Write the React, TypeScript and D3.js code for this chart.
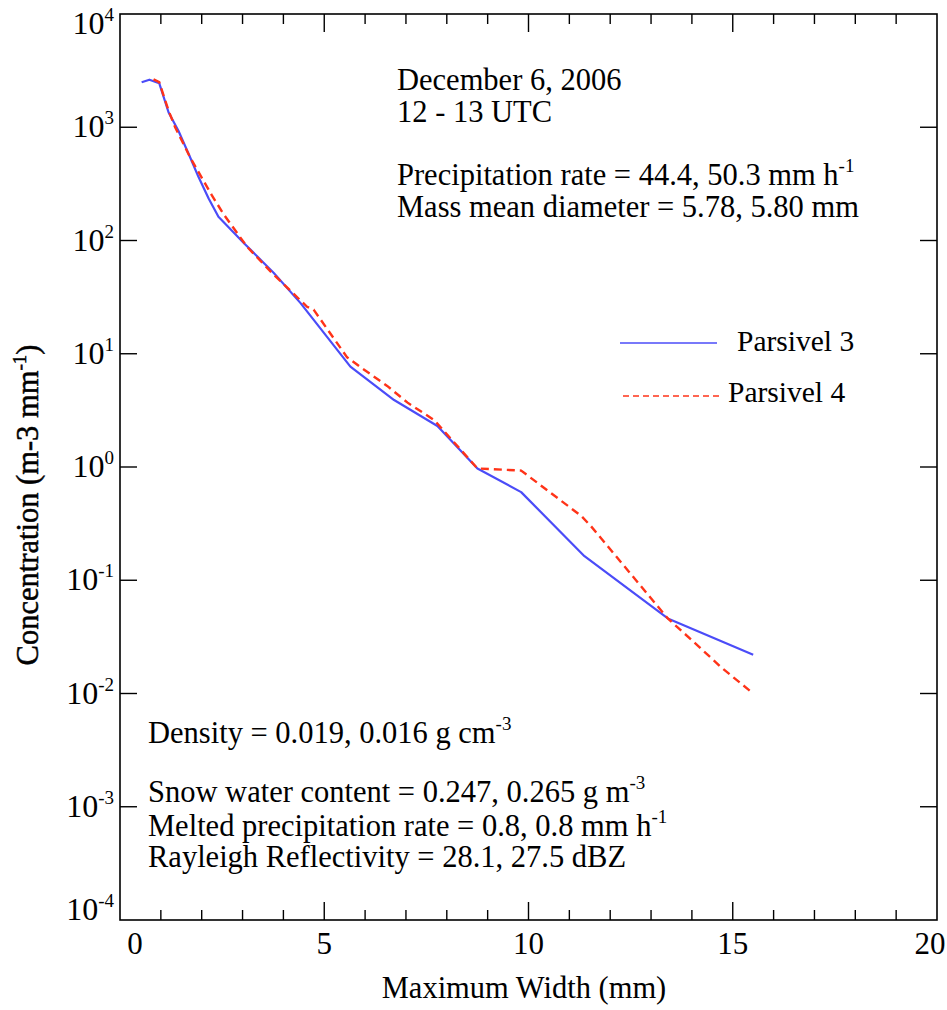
import React from "react";
import * as d3 from "d3";

const p3Width = [0.53, 0.72, 0.96, 1.19, 1.43, 1.70, 1.92, 2.17, 2.41, 3.03, 3.76, 4.42, 5.64, 6.71, 7.77, 8.75, 9.82, 11.37, 13.41, 15.5];
const p3Conc = [2500, 2630, 2450, 1350, 930, 560, 365, 235, 162, 95, 52, 28, 7.7, 3.9, 2.3, 0.97, 0.6, 0.163, 0.046, 0.022];

const p4Width = [0.82, 0.96, 1.19, 1.35, 1.72, 2.25, 2.54, 3.11, 3.76, 4.58, 4.74, 5.56, 5.89, 6.54, 7.04, 7.69, 8.75, 9.82, 11.29, 11.53, 13.41, 14.07, 14.72, 15.5];
const p4Conc = [2650, 2500, 1400, 1000, 540, 250, 170, 88, 50, 26, 24.5, 9.3, 7.6, 5.2, 3.7, 2.6, 0.97, 0.93, 0.37, 0.30, 0.046, 0.028, 0.017, 0.01];

const xMajor = [0, 5, 10, 15, 20];
const xMinor = d3.range(0, 21);
const yExponents = [4, 3, 2, 1, 0, -1, -2, -3, -4];

const seriesNames = ["Parsivel 3", "Parsivel 4"];

const topLines = ["December 6, 2006", "12 - 13 UTC"];

export default function App() {
  const W = 947, H = 1010;
  const L = 120, R = 937, T = 14, B = 920;
  const x = d3.scaleLinear().domain([0, 20]).range([L, R]);
  const y = d3.scaleLog().domain([1e-4, 1e4]).range([B, T]);
  const line = d3.line<[number, number]>().x(d => x(d[0])).y(d => y(d[1]));
  const p3 = p3Width.map((w, i) => [w, p3Conc[i]] as [number, number]);
  const p4 = p4Width.map((w, i) => [w, p4Conc[i]] as [number, number]);
  const font = "'Liberation Serif', 'Times New Roman', serif";
  const fs = 30.5;
  const sup = 19;
  const blue = "#4b4cf8";
  const red = "#ff3318";

  return (
    <svg width={W} height={H} style={{ position: "absolute", left: 0, top: 0 }} fontFamily={font}>
      <rect x={0} y={0} width={W} height={H} fill="#fff" />
      {/* frame */}
      <rect x={L} y={T} width={R - L} height={B - T} fill="none" stroke="#000" strokeWidth={1.6} />
      {/* x ticks bottom & top */}
      {xMinor.map(v => {
        const major = v % 5 === 0;
        const len = major ? 18 : 10;
        if (v === 0 || v === 20) return null;
        return (
          <g key={"xt" + v}>
            <line x1={x(v)} x2={x(v)} y1={B} y2={B - len} stroke="#000" strokeWidth={1.4} />
            <line x1={x(v)} x2={x(v)} y1={T} y2={T + len} stroke="#000" strokeWidth={1.4} />
          </g>
        );
      })}
      {xMajor.map((v, i) => {
        let dx = 0;
        if (i === 0) dx = 15;
        if (i === xMajor.length - 1) dx = -7;
        return (
          <text key={"xl" + v} x={x(v) + dx} y={954} fontSize={31} textAnchor="middle">{v}</text>
        );
      })}
      {/* y ticks */}
      {yExponents.map(e => {
        const v = Math.pow(10, e);
        const yy = y(v);
        let by = yy + 10;
        if (e === 4) by = 34;
        if (e === -4) by = 920;
        return (
          <g key={"yt" + e}>
            {e !== 4 && e !== -4 && (
              <>
                <line x1={L} x2={L + 17} y1={yy} y2={yy} stroke="#000" strokeWidth={1.4} />
                <line x1={R} x2={R - 17} y1={yy} y2={yy} stroke="#000" strokeWidth={1.4} />
              </>
            )}
            <text x={114} y={by} fontSize={32} textAnchor="end">
              10<tspan dy={-13} fontSize={sup}>{e}</tspan>
            </text>
          </g>
        );
      })}
      {/* curves */}
      <path d={line(p3) || ""} fill="none" stroke={blue} strokeWidth={2.2} strokeLinejoin="round" />
      <path d={line(p4) || ""} fill="none" stroke={red} strokeWidth={2.4} strokeDasharray="8,5" />
      {/* legend */}
      <line x1={620} x2={717} y1={343} y2={343} stroke={blue} strokeWidth={1.5} />
      <text x={737} y={351} fontSize={29.5}>{seriesNames[0]}</text>
      <line x1={623} x2={720} y1={396} y2={396} stroke={red} strokeWidth={1.5} strokeDasharray="6,4" />
      <text x={728} y={402} fontSize={29.5}>{seriesNames[1]}</text>
      {/* annotations top */}
      <text x={397} y={90} fontSize={fs}>{topLines[0]}</text>
      <text x={397} y={122} fontSize={fs}>{topLines[1]}</text>
      <text x={397} y={185} fontSize={fs}>
        Precipitation rate = 44.4, 50.3 mm h<tspan dy={-13} fontSize={sup}>-1</tspan>
      </text>
      <text x={397} y={217} fontSize={fs}>Mass mean diameter = 5.78, 5.80 mm</text>
      {/* annotations bottom */}
      <text x={148} y={743} fontSize={fs}>
        Density = 0.019, 0.016 g cm<tspan dy={-13} fontSize={sup}>-3</tspan>
      </text>
      <text x={148} y={802} fontSize={fs}>
        Snow water content = 0.247, 0.265 g m<tspan dy={-13} fontSize={sup}>-3</tspan>
      </text>
      <text x={148} y={836} fontSize={fs}>
        Melted precipitation rate = 0.8, 0.8 mm h<tspan dy={-13} fontSize={sup}>-1</tspan>
      </text>
      <text x={148} y={867} fontSize={fs}>Rayleigh Reflectivity = 28.1, 27.5 dBZ</text>
      {/* axis titles */}
      <text x={524} y={998} fontSize={fs} textAnchor="middle">Maximum Width (mm)</text>
      <text transform={`translate(38, 505) rotate(-90)`} fontSize={30.5} textAnchor="middle" stroke="#000" strokeWidth={0.5}>
        Concentration (m-3 mm<tspan dy={-12} fontSize={19}>-1</tspan><tspan dy={12}>)</tspan>
      </text>
    </svg>
  );
}
